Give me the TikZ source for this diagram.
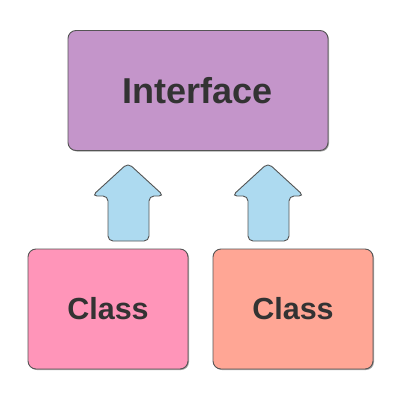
\documentclass[tikz,border=0pt]{standalone}
\usepackage{fontspec}
\setmainfont{Liberation Sans}
\usetikzlibrary{shadows}
\definecolor{ifacefill}{HTML}{C495CA}
\definecolor{classpink}{HTML}{FF95B9}
\definecolor{classsalmon}{HTML}{FFA695}
\definecolor{arrowblue}{HTML}{ADDAF0}
\definecolor{txt}{HTML}{333333}
\definecolor{edge}{HTML}{555555}
\tikzset{
  boxstyle/.style={draw=edge, line width=0.9pt, rounded corners=8pt, inner sep=0pt,
    text=txt, font=\bfseries,
    drop shadow={shadow xshift=1pt, shadow yshift=-1pt, opacity=0.35, fill=black}},
  uparrow/.style={draw=edge, line width=0.9pt, fill=arrowblue, rounded corners=5pt}
}
\begin{document}
\begin{tikzpicture}[x=1pt,y=-1pt]
\useasboundingbox (0,0) rectangle (400,400);
\node[boxstyle, fill=ifacefill, minimum width=260pt, minimum height=120pt,
  font=\fontsize{36}{40}\selectfont\bfseries] (iface) at (198,90.5) {Interface};
\node[boxstyle, fill=classpink, minimum width=160pt, minimum height=120pt,
  font=\fontsize{30.5}{36}\selectfont\bfseries] (c1) at (108,309) {Class};
\node[boxstyle, fill=classsalmon, minimum width=160pt, minimum height=120pt,
  font=\fontsize{30.5}{36}\selectfont\bfseries] (c2) at (293,309) {Class};
\draw[uparrow] (128,163) -- (164,196) -- (149,196) -- (149,241) -- (108,241) -- (108,196) -- (92,196) -- cycle;
\draw[uparrow] (268,163) -- (304,196) -- (289,196) -- (289,241) -- (248,241) -- (248,196) -- (232,196) -- cycle;
\end{tikzpicture}
\end{document}
